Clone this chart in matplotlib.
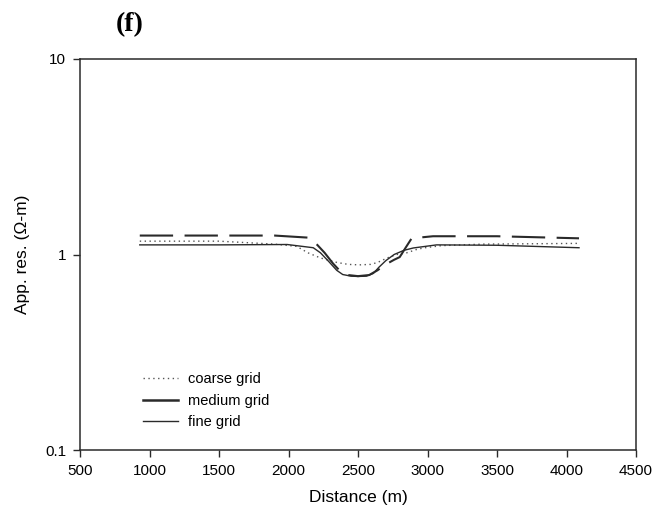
import numpy as np
import matplotlib
matplotlib.use("Agg")
import matplotlib.pyplot as plt
from matplotlib.lines import Line2D
from matplotlib.ticker import NullLocator, FixedLocator, FixedFormatter

plt.rcParams['font.family'] = ['Liberation Sans', 'DejaVu Sans']

# apparent resistivity profiles for three mesh sizes
x_coarse = [930, 1500, 1900, 2060, 2140, 2230, 2350, 2430, 2510, 2590, 2640,
            2710, 2780, 2850, 2920, 2970, 3100, 3400, 4090]
res_coarse = [1.17, 1.17, 1.13, 1.10, 1.02, 0.96, 0.91, 0.89, 0.885, 0.89, 0.91,
              0.96, 1.00, 1.02, 1.06, 1.08, 1.11, 1.13, 1.14]

x_medium = [930, 1500, 1900, 2140, 2207, 2260, 2320, 2380, 2430, 2500, 2580,
            2640, 2700, 2760, 2800, 2845, 2886, 3040, 3500, 4090]
res_medium = [1.25, 1.25, 1.25, 1.22, 1.12, 1.02, 0.90, 0.81, 0.785, 0.775, 0.785,
              0.83, 0.89, 0.94, 0.97, 1.09, 1.21, 1.24, 1.24, 1.21]

x_fine = [930, 1500, 1990, 2178, 2230, 2290, 2347, 2390, 2450, 2500, 2560,
          2610, 2650, 2700, 2760, 2830, 2898, 3066, 3500, 4090]
res_fine = [1.12, 1.12, 1.125, 1.083, 1.02, 0.92, 0.83, 0.79, 0.775, 0.772, 0.775,
            0.80, 0.86, 0.93, 1.00, 1.05, 1.08, 1.12, 1.115, 1.083]

xticks = [500, 1000, 1500, 2000, 2500, 3000, 3500, 4000, 4500]
yticks = [0.1, 1, 10]
ytick_labels = ['0.1', '1', '10']

fig = plt.figure(figsize=(6.56, 5.21), dpi=100)
ax = fig.add_axes([80/656, 1-450/521, (636-80)/656, (450-59)/521])

ink = '#2a2a2a'
ax.plot(x_coarse, res_coarse, color='#555555', lw=1.0, linestyle=(0, (1, 2.5)))
ax.plot(x_medium, res_medium, color=ink, lw=1.5, dashes=(16, 5.5))
ax.plot(x_fine, res_fine, color=ink, lw=1.0)

ax.set_yscale('log')
ax.set_xlim(500, 4500)
ax.set_ylim(0.1, 10)
ax.set_xticks(xticks)
ax.yaxis.set_major_locator(FixedLocator(yticks))
ax.yaxis.set_major_formatter(FixedFormatter(ytick_labels))
ax.yaxis.set_minor_locator(NullLocator())
ax.tick_params(labelsize=11, length=5, width=1, color=ink, pad=5)
for s in ax.spines.values():
    s.set_color(ink)
    s.set_linewidth(1.1)

ax.set_xlabel('Distance (m)', fontsize=12.5, labelpad=9)
ax.set_ylabel('App. res. (Ω-m)', fontsize=12.5, labelpad=11)

handles = [
    Line2D([], [], color='#555555', lw=1.0, linestyle=(0, (1, 2.5))),
    Line2D([], [], color=ink, lw=1.8),
    Line2D([], [], color=ink, lw=1.0),
]
ax.legend(handles, ['coarse grid', 'medium grid', 'fine grid'], loc='lower left',
          bbox_to_anchor=(0.09, 0.02), frameon=False, fontsize=10.5,
          handlelength=2.4, labelspacing=0.5, handletextpad=0.7)

fig.text(0.198, 0.952, '(f)', fontfamily='Liberation Serif', fontweight='bold',
         fontsize=20, ha='center', va='center')

fig.savefig('out.png', dpi=100)
